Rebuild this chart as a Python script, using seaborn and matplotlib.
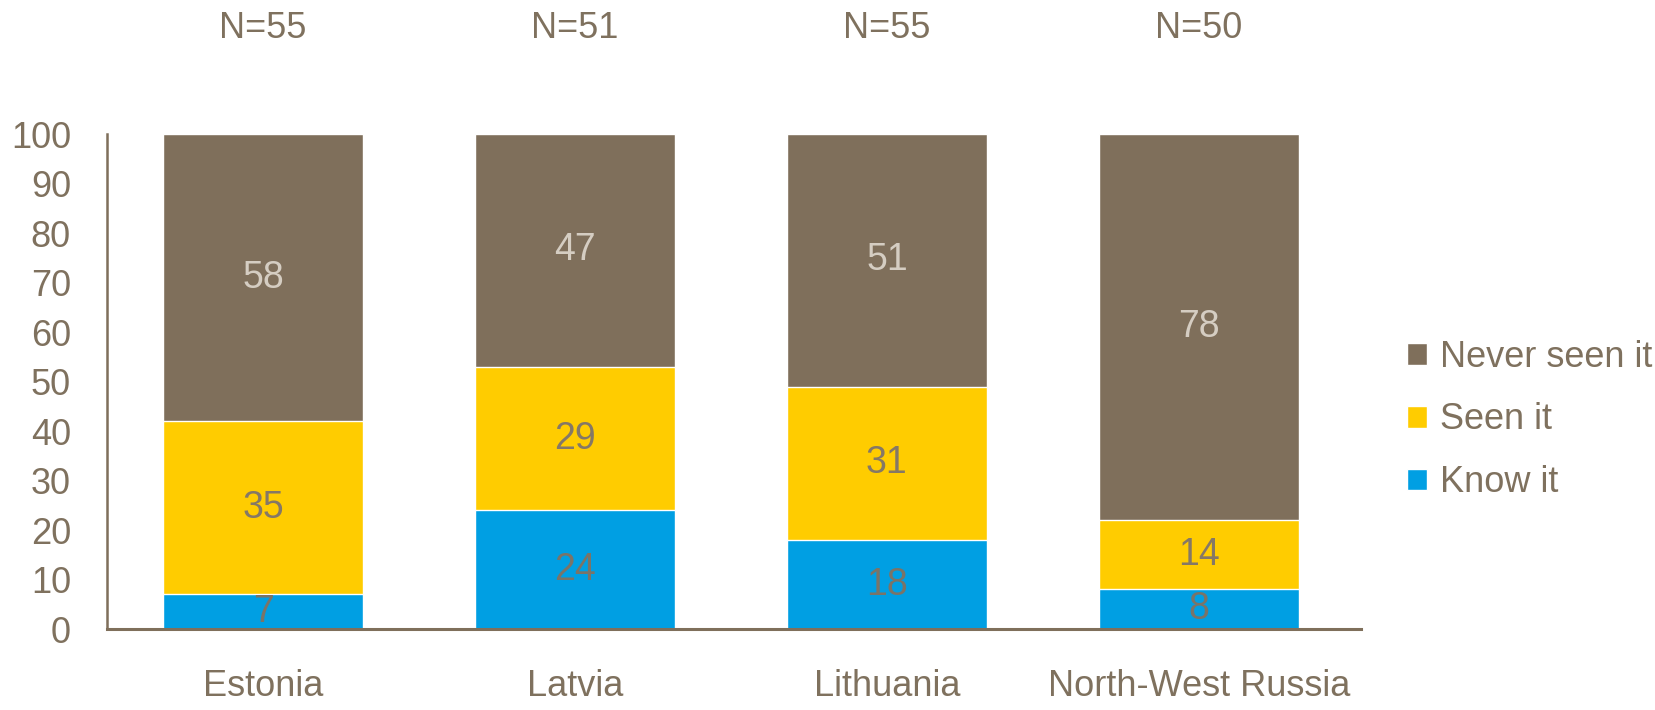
import matplotlib
matplotlib.use("Agg")
import matplotlib.pyplot as plt
from matplotlib.patches import Patch
import seaborn as sns
import numpy as np
import pandas as pd

# data
countries = ["Estonia", "Latvia", "Lithuania", "North-West Russia"]
n_sizes = [55, 51, 55, 50]
know_it = [7, 24, 18, 8]
seen_it = [35, 29, 31, 14]
never_seen = [58, 47, 51, 78]

BROWN = "#7F6F5B"
YELLOW = "#FFCC00"
BLUE = "#009FE3"
TEXT = "#7F715E"

sns.set_style("white")
plt.rcParams['font.family'] = ['Liberation Sans', 'DejaVu Sans']

df = pd.DataFrame({"country": countries, "know": know_it, "seen": seen_it, "never": never_seen})
df["cum_seen"] = df["know"] + df["seen"]
df["cum_never"] = df["cum_seen"] + df["never"]

fig = plt.figure(figsize=(16.55, 7.10), dpi=100)
ax = fig.add_axes([0.0647, 0.114, 0.7577, 0.697])

# stacked bars drawn as overlaid cumulative totals
sns.barplot(data=df, x="country", y="cum_never", color=BROWN, saturation=1, width=0.64,
            edgecolor="white", linewidth=1.0, ax=ax)
sns.barplot(data=df, x="country", y="cum_seen", color=YELLOW, saturation=1, width=0.64,
            edgecolor="white", linewidth=1.0, ax=ax)
sns.barplot(data=df, x="country", y="know", color=BLUE, saturation=1, width=0.64,
            edgecolor="white", linewidth=1.0, ax=ax)

# segment labels
lbl = dict(ha="center", va="center", fontsize=27)
for i, row in df.iterrows():
    ax.text(i, row["know"] / 2, str(row["know"]), color="#7A7468", **lbl)
    ax.text(i, row["know"] + row["seen"] / 2, str(row["seen"]), color="#857866", **lbl)
    ax.text(i, row["cum_seen"] + row["never"] / 2, str(row["never"]), color="#D5CDC2", **lbl)
    ax.text(i, 121.4, f"N={n_sizes[i]}", ha="center", va="center", fontsize=26,
            color=TEXT, clip_on=False)

ax.set_xlim(-0.5, 3.52)
ax.set_ylim(0, 100)
ax.set_yticks(np.arange(0, 101, 10))
ax.set_xlabel("")
ax.set_ylabel("")
ax.tick_params(axis="y", length=0, pad=26, labelsize=26, labelcolor=TEXT)
ax.tick_params(axis="x", length=0, pad=29, labelsize=26, labelcolor=TEXT)

for side in ["top", "right"]:
    ax.spines[side].set_visible(False)
ax.spines["left"].set_color(BROWN)
ax.spines["left"].set_linewidth(1.8)
ax.spines["bottom"].set_color(BROWN)
ax.spines["bottom"].set_linewidth(2.2)

handles = [Patch(facecolor=BROWN, label="Never seen it"),
           Patch(facecolor=YELLOW, label="Seen it"),
           Patch(facecolor=BLUE, label="Know it")]
leg = fig.legend(handles=handles, loc="center left", bbox_to_anchor=(0.8502, 0.4085),
                 frameon=False, fontsize=26, handlelength=0.55, handleheight=0.55,
                 handletextpad=0.36, labelspacing=0.77, borderpad=0, borderaxespad=0)
for t in leg.get_texts():
    t.set_color(TEXT)

fig.savefig("out.png", dpi=100)
